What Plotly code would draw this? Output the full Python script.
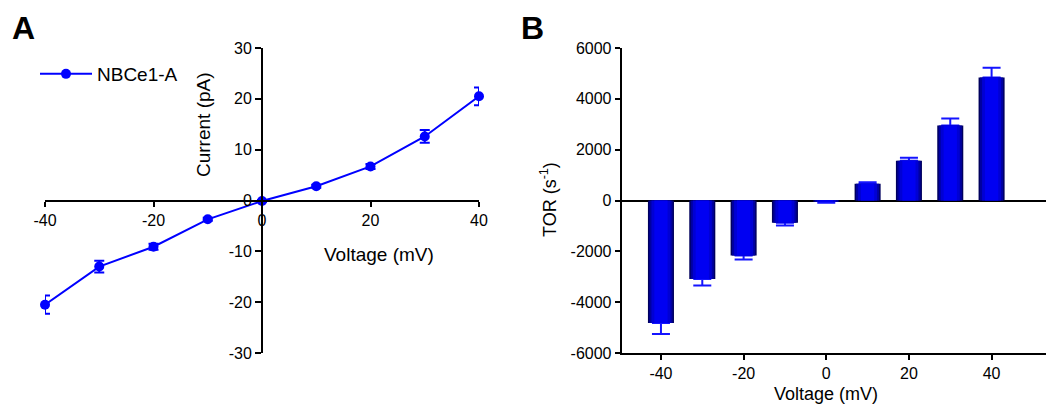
import plotly.graph_objects as go

# ---- data ----
voltage_a = [-40, -30, -20, -10, 0, 10, 20, 30, 40]
current_pa = [-20.5, -13.0, -9.1, -3.7, -0.1, 2.8, 6.7, 12.6, 20.5]
current_err = [1.8, 1.15, 0.6, 0.3, 0.2, 0.3, 0.5, 1.25, 1.75]

voltage_b = [-40, -30, -20, -10, 0, 10, 20, 30, 40]
tor_vals = [-4820, -3085, -2165, -880, -50, 655, 1560, 2950, 4840]
tor_err = [430, 260, 160, 100, 40, 65, 120, 275, 380]

series_name = "NBCe1-A"
x_ticks_a = [-40, -20, 0, 20, 40]
y_ticks_a = [-30, -20, -10, 0, 10, 20, 30]
x_ticks_b = [-40, -20, 0, 20, 40]
y_ticks_b = [-6000, -4000, -2000, 0, 2000, 4000, 6000]

# page body has an 8px margin, so the figure is sized to fit the window
OFF = 8
W, H = 1054 - OFF, 405 - OFF
FONT = "Liberation Sans, Arial, sans-serif"


def px_x(p):
    return (p - OFF) / W


def px_y(p):
    return (H - (p - OFF)) / H


def labels(vals):
    return [str(v) for v in vals]


fig = go.Figure()

# Panel A
fig.add_trace(go.Scatter(
    x=voltage_a, y=current_pa, name=series_name, mode="lines+markers",
    line=dict(color="#0000ff", width=2),
    marker=dict(color="#0000ff", size=10, symbol="circle"),
    error_y=dict(type="data", array=current_err, color="#0000ff", thickness=2, width=5),
    cliponaxis=False, xaxis="x", yaxis="y", showlegend=True,
))

# Panel B: layered bars to imitate the shaded bar fill
plus = [e if v >= 0 else 0 for v, e in zip(tor_vals, tor_err)]
minus = [e if v < 0 else 0 for v, e in zip(tor_vals, tor_err)]
layers = [(6.3, "#00005e"), (5.6, "#0000a0"), (4.6, "#0000d4"), (3.2, "#0000f2")]
for i, (w, c) in enumerate(layers):
    kw = {}
    if i == 0:
        kw["error_y"] = dict(type="data", symmetric=False, array=plus, arrayminus=minus,
                             color="#1414ff", thickness=2, width=9)
    fig.add_trace(go.Bar(
        x=voltage_b, y=tor_vals, width=w, marker=dict(color=c, line=dict(width=0)),
        xaxis="x2", yaxis="y2", showlegend=False, **kw,
    ))

ya_dom = [px_y(353), px_y(48)]
xa_dom = [px_x(45), px_x(479)]
xb_dom = [px_x(621.7), 1.0]

axis_common = dict(showgrid=False, zeroline=False, showline=True, linecolor="black",
                   linewidth=2, ticks="outside", tickcolor="black", tickwidth=2,
                   automargin=False, tickmode="array",
                   tickfont=dict(family=FONT, size=16, color="black"))

fig.update_layout(
    template="none",
    width=W, height=H, paper_bgcolor="white", plot_bgcolor="rgba(0,0,0,0)",
    margin=dict(l=0, r=0, t=0, b=0, pad=0, autoexpand=False),
    barmode="overlay",
    font=dict(family=FONT, color="black"),
    showlegend=True,
    legend=dict(x=px_x(35), y=px_y(74), xanchor="left", yanchor="middle",
                font=dict(family=FONT, size=19, color="black"), itemwidth=52,
                bgcolor="rgba(0,0,0,0)", borderwidth=0),
    xaxis=dict(domain=xa_dom, range=[-40, 40], anchor="free",
               position=(ya_dom[0] + ya_dom[1]) / 2, tickvals=x_ticks_a,
               ticktext=labels(x_ticks_a), ticklen=5, **axis_common),
    yaxis=dict(domain=ya_dom, range=[-30, 30], anchor="free",
               position=(xa_dom[0] + xa_dom[1]) / 2, tickvals=y_ticks_a,
               ticktext=labels(y_ticks_a), ticklen=6, **axis_common),
    xaxis2=dict(domain=xb_dom, range=[-49.5, 55.1], anchor="y2", tickvals=x_ticks_b,
                ticktext=labels(x_ticks_b), ticklen=5, **axis_common),
    yaxis2=dict(domain=ya_dom, range=[-6000, 6000], anchor="x2", tickvals=y_ticks_b,
                ticktext=labels(y_ticks_b), ticklen=5,
                **{**axis_common, "zeroline": True}, zerolinecolor="black",
                zerolinewidth=2),
)

ann = [
    dict(text="<b>A</b>", x=px_x(10), y=px_y(28), xanchor="left", yanchor="middle",
         font=dict(size=32, family=FONT)),
    dict(text="<b>B</b>", x=px_x(519), y=px_y(28), xanchor="left", yanchor="middle",
         font=dict(size=32, family=FONT)),
    dict(text="Current (pA)", x=px_x(203), y=px_y(125), textangle=-90,
         xanchor="center", yanchor="middle", font=dict(size=19, family=FONT)),
    dict(text="Voltage (mV)", x=px_x(379), y=px_y(255), xanchor="center",
         yanchor="middle", font=dict(size=19, family=FONT)),
    dict(text="TOR (s<sup>-1</sup>)", x=px_x(548), y=px_y(200), textangle=-90,
         xanchor="center", yanchor="middle", font=dict(size=18, family=FONT)),
    dict(text="Voltage (mV)", x=px_x(826), y=px_y(394), xanchor="center",
         yanchor="middle", font=dict(size=18, family=FONT)),
]
for a in ann:
    a.update(xref="paper", yref="paper", showarrow=False)
fig.update_layout(annotations=ann)

fig.write_html("out.html")
